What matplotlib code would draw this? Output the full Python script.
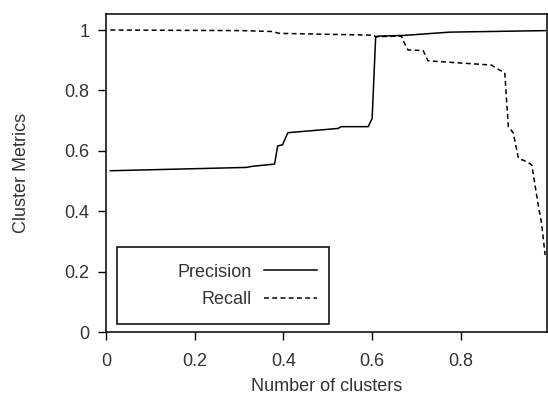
import matplotlib
matplotlib.use('Agg')
import matplotlib.pyplot as plt
from matplotlib.patches import Rectangle

plt.rcParams['font.family'] = ['Liberation Sans', 'DejaVu Sans']

# Precision curve
prec_x = [0.01, 0.316, 0.331, 0.38, 0.387, 0.398, 0.41, 0.523, 0.53, 0.591, 0.6, 0.608,
          0.617, 0.67, 0.775, 0.99]
prec_y = [0.534, 0.545, 0.549, 0.556, 0.616, 0.62, 0.66, 0.674, 0.68, 0.68, 0.707, 0.978,
          0.98, 0.982, 0.993, 0.998]

# Recall curve
rec_x = [0.01, 0.308, 0.375, 0.39, 0.6, 0.61, 0.666, 0.673, 0.681, 0.715, 0.726, 0.869,
         0.884, 0.899, 0.907, 0.918, 0.93, 0.949, 0.96, 0.975, 0.982, 0.99]
rec_y = [1.0, 0.998, 0.995, 0.989, 0.983, 0.978, 0.98, 0.956, 0.934, 0.932, 0.898, 0.884,
         0.87, 0.859, 0.68, 0.66, 0.575, 0.564, 0.553, 0.415, 0.36, 0.255]

fs = 13
txt_col = '#333333'

fig = plt.figure(figsize=(5.48, 3.97), dpi=100)
ax = fig.add_axes([0.1934, 0.1637, 0.8046, 0.801])

ax.plot(prec_x, prec_y, color='black', lw=1.1, label='Precision')
ax.plot(rec_x, rec_y, color='black', lw=1.1, ls=(0, (3.2, 2.2)), label='Recall')

ax.set_xlim(0, 0.994)
ax.set_ylim(0, 1.053)
ax.set_xticks([0, 0.2, 0.4, 0.6, 0.8])
ax.set_xticklabels(['0', '0.2', '0.4', '0.6', '0.8'])
ax.set_yticks([0, 0.2, 0.4, 0.6, 0.8, 1])
ax.set_yticklabels(['0', '0.2', '0.4', '0.6', '0.8', '1'])
ax.tick_params(direction='out', length=5.5, width=1.0, labelsize=fs, labelcolor=txt_col)
ax.tick_params(axis='x', pad=9.5)
ax.tick_params(axis='y', pad=6.5)
for s in ax.spines.values():
    s.set_linewidth(1.1)

ax.set_xlabel('Number of clusters', fontsize=fs, color=txt_col)
ax.set_ylabel('Cluster Metrics', fontsize=fs, color=txt_col)
ax.xaxis.set_label_coords(0.5, -0.145)
ax.yaxis.set_label_coords(-0.172, 0.5)

# legend frame drawn separately (the original has extra room left of the labels)
ax.add_patch(Rectangle((0.025, 0.025), 0.481, 0.242, transform=ax.transAxes,
                       fill=False, edgecolor='black', lw=1.1, zorder=5))
leg = ax.legend(loc='center right', bbox_to_anchor=(0.4785, 0.1447), markerfirst=False,
                fontsize=fs, handlelength=2.93, handletextpad=0.66, frameon=False,
                borderpad=0, labelspacing=0.6, borderaxespad=0)
for t in leg.get_texts():
    t.set_color(txt_col)

plt.savefig('out.png', dpi=100)
